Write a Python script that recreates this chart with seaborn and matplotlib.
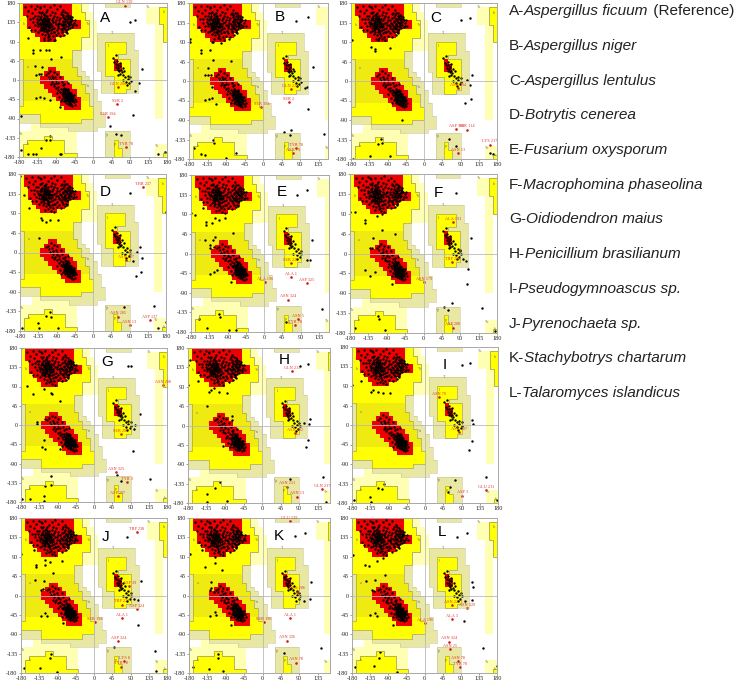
import numpy as np
import pandas as pd
import matplotlib
matplotlib.use("Agg")
import matplotlib.pyplot as plt
from matplotlib.colors import ListedColormap
import seaborn as sns

sns.set_style("white")

# regioes do mapa, uma linha a cada 10 graus de psi (de +180 pra -180), cada run = classe + qtd de celulas
REGION_ROWS = [
    "y1 r12 y2 p2 .4 t6 .9", "y1 r12 y2 p2 .14 p2 p1 y2", "y1 r12 y3 p2 .13 p3 y2", "y2 r11 y3 p2 .13 p3 y2",
    "y2 r13 y2 p2 .12 p3 y2", "y2 r13 y2 p2 .14 p2 y1", "y3 r9 y5 p2 .14 p2 y1", "y4 r7 y6 p2 t9 .5 p2 y1",
    "y5 r4 y6 p4 t9 .5 p2 y1", "y15 p4 t2 y5 t2 .5 p2 .1", "y15 p4 t2 y5 t2 .5 p2 .1",
    "y13 t2 .4 t2 y5 t3 .4 p2 .1", "y13 t2 .4 t2 y3 t5 .4 p2 .1", "t1 o12 t2 .4 t2 y2 r1 y3 t2 .4 p2 .1",
    "t1 o12 t2 .4 t2 y2 r2 y2 t2 .4 p2 .1", "t1 o6 r2 o5 t1 .4 t2 y2 r2 y2 t2 .4 p2 .1",
    "t1 o5 r4 o4 t2 .4 t1 y6 t2 .4 p2 .1", "t1 o4 r6 o4 t2 .3 t3 y4 t2 .4 p2 .1",
    "t1 o4 r7 o3 t3 .2 t3 y4 t2 .4 p2 .1", "t1 o5 r7 o3 t2 .2 t3 y4 t2 .4 p2 .1",
    "t1 o6 r7 o2 t3 .1 t3 y3 t3 .4 p2 .1", "t1 o7 r6 o3 t2 .14 p2 .1", "t1 o8 r6 o2 t2 .14 p2 .1",
    "t1 y9 r5 y2 t3 .13 p2 .1", "y11 r4 y3 t2 .13 p2 .1", "y18 t2 .13 p2 .1", "t5 y13 t3 .12 p2 .1",
    "t5 y10 t6 .15", ".3 p2 t16 .15", ".3 p9 t7 .17", "p14 .7 t6 .9", "p6 y2 p6 .7 t6 .9",
    "p2 y9 p3 .7 t2 y1 t3 .9", "p1 y10 p3 .7 t2 y1 t3 .6 p3", "p1 y10 p3 .7 t2 y2 t2 .6 p3",
    "p1 y13 .7 t2 y2 t2 .6 p2 y1",
]
REGION_CODES = ".ptoyr"
REGION_COLORS = ["#ffffff", "#ffffb4", "#e8e8a4", "#efeb10", "#ffff00", "#ee0000"]

PANEL_NAMES = list("ABCDEFGHIJKL")
# caixas em pixel: esquerda, direita, topo, base, phi onde a imagem foi cortada
PANEL_BOX = {
    "A": (19, 167, 3, 157, 180), "B": (189, 328, 3, 159, 158), "C": (351, 497, 3, 159, 180),
    "D": (20, 166, 174, 331, 180), "E": (191, 329, 175, 332, 160), "F": (350, 497, 174, 333, 180),
    "G": (21, 167, 348, 502, 180), "H": (188, 330, 348, 503, 165), "I": (352, 498, 347, 503, 180),
    "J": (21, 167, 518, 673, 180), "K": (189, 330, 518, 673, 165), "L": (352, 497, 518, 673, 180),
}
LETTER_POS = {
    "A": (105, 18), "B": (280, 17), "C": (436, 18), "D": (105, 192), "E": (282, 192), "F": (438, 193),
    "G": (107, 362), "H": (284, 360), "I": (445, 365), "J": (106, 537), "K": (279, 536), "L": (442, 532),
}

# nuvem beta (phi, psi), igual em todas as estruturas
BETA_POINTS = [
    (-165,170),(-158,162),(-150,172),(-142,165),(-136,174),(-128,168),(-120,172),(-112,163),(-104,170),(-96,176),
    (-88,166),(-80,172),(-72,164),(-160,150),(-154,143),(-148,156),(-141,150),(-137,142),(-131,158),(-126,149),
    (-122,141),(-118,155),(-113,146),(-109,139),(-104,152),(-98,146),(-93,157),(-88,148),(-83,140),(-78,154),
    (-73,147),(-68,158),(-64,142),(-60,152),(-57,138),(-52,148),(-146,135),(-141,128),(-136,136),(-133,126),
    (-130,133),(-127,122),(-124,130),(-121,137),(-119,125),(-116,132),(-114,120),(-112,128),(-110,136),(-108,124),
    (-105,131),(-103,118),(-100,127),(-97,135),(-94,122),(-91,130),(-88,116),(-85,126),(-82,134),(-79,120),
    (-76,128),(-73,136),(-70,123),(-68,131),(-65,118),(-62,127),(-60,135),(-57,122),(-54,130),(-50,124),
    (-46,134),(-42,128),(-140,118),(-134,112),(-128,116),(-124,108),(-120,114),(-116,106),(-111,112),(-106,104),
    (-102,110),(-98,102),(-94,112),(-90,105),(-85,110),(-80,102),(-75,112),(-70,106),(-64,110),(-120,145),
    (-117,139),(-115,150),(-112,134),(-110,143),(-107,128),(-125,140),(-128,131),(-118,128),(-122,124),(-115,126),
    (-70,144),(-67,138),(-65,149),(-62,133),(-72,128),(-68,120),(-60,143),(-58,128),(-56,144),(-74,139),
    (-155,125),(-150,118),(-145,144),(-100,160),(-95,150),(-90,140),(-86,130),(-130,170),(-125,160),(-135,150),
    (-110,100),(-104,96),(-96,94),(-118,98),(-124,122),(-108,116),(-100,140),(-92,136),(-84,122),(-76,116),
    (-127,142),(-124,135),(-121,130),(-119,146),(-117,122),(-115,137),(-113,141),(-111,131),(-109,125),(-107,135),
    (-126,127),(-123,118),(-120,120),(-118,134),(-116,142),(-114,114),(-112,150),(-110,118),(-106,142),(-104,124),
    (-131,140),(-134,131),(-129,146),(-127,156),(-120,152),(-115,158),(-109,108),(-102,132),(-99,120),(-96,112),
    (-72,152),(-70,132),(-68,142),(-66,126),(-64,136),(-62,148),(-61,120),(-59,132),(-57,150),(-55,136),
    (-53,142),(-66,112),(-74,122),(-78,132),(-80,146),(-76,158),(-63,156),(-50,140),(-48,128),(-44,140),
]
# nuvem alfa (phi, psi)
ALPHA_POINTS = [
    (-110,16),(-104,22),(-100,10),(-96,18),(-92,6),(-88,14),(-105,2),(-99,-4),(-94,-10),(-89,0),
    (-84,-8),(-80,6),(-76,-4),(-84,-16),(-78,-20),(-74,-12),(-70,-18),(-72,-28),(-67,-24),(-64,-30),
    (-62,-20),(-69,-35),(-65,-38),(-61,-34),(-58,-28),(-56,-38),(-60,-44),(-64,-46),(-57,-48),(-53,-42),
    (-50,-36),(-48,-46),(-54,-30),(-66,-42),(-62,-40),(-59,-37),(-56,-44),(-52,-50),(-47,-52),(-44,-44),
    (-68,-30),(-72,-38),(-76,-32),(-80,-28),(-85,-24),(-90,-18),(-95,-14),(-75,-44),(-70,-50),(-65,-54),
    (-60,-56),(-55,-58),(-50,-60),(-45,-58),(-41,-50),(-58,-40),(-61,-47),(-63,-36),(-55,-34),(-52,-38),
    (-66,-32),(-69,-26),(-73,-22),(-64,-26),(-60,-24),(-57,-34),(-54,-46),(-50,-42),(-67,-48),(-59,-52),
    (-115,12),(-108,8),(-102,-10),(-88,-30),(-82,-40),(-78,-50),(-70,-10),(-62,-8),(-90,-6),(-98,4),
    (-63,-42),(-61,-39),(-59,-43),(-57,-41),(-55,-40),(-65,-35),(-63,-32),(-60,-30),(-58,-35),(-56,-31),
    (-68,-40),(-66,-37),(-64,-44),(-62,-50),(-60,-47),(-58,-50),(-56,-53),(-54,-37),(-52,-44),(-50,-48),
    (-72,-33),(-70,-30),(-74,-26),(-67,-20),(-65,-22),(-71,-42),(-69,-46),(-48,-40),(-46,-36),(-53,-55),
]
# helice esquerda + rabo ate phi ~100
LEFT_POINTS = [
    (52,42),(55,38),(58,45),(60,36),(57,30),(62,28),(65,33),(60,24),(63,20),(67,24),
    (70,18),(72,28),(66,14),(74,12),(78,6),(72,0),(80,-4),(85,2),(88,-8),(92,-2),
    (62,12),(48,52),(66,40),(76,22),(84,10),(55,58),(90,6),(82,-12),
]

# fora das nuvens, por painel
POINTS_A = [(-159,99),(-146,70),(-146,62),(-130,70),(-114,70),(-108,70),(-118,93),(-109,93),(-93,93),(-79,53),(-101,50),(-142,33),(-138,12),(-131,14),(-126,14),(-123,31),(-138,-43),(-130,-39),(-118,-41),(-105,-47),(-174,-85),(-81,-64),(-146,-173),(-138,-172),(-81,-174),(-77,-173),(-174,-163),(-158,-174),(-105,-140),(-114,-140),(-126,-159),(-105,-132),(89,136),(101,141),(118,26),(112,-8),(101,-25),(97,-81),(42,-107),(57,-126),(69,-128),(158,-174),(176,-168)]
POINTS_B = [(-178,96),(-177,91),(-151,64),(-151,72),(-129,72),(-125,91),(-121,91),(-103,87),(-82,96),(-78,47),(-121,48),(-134,29),(-140,14),(-134,14),(-127,14),(-125,-13),(-142,-44),(-131,-42),(-125,-40),(-114,-52),(-142,-171),(-151,-168),(-168,-155),(-121,-136),(-119,-144),(-91,-178),(-65,-167),(80,139),(109,147),(121,33),(106,-13),(102,-17),(110,-65),(69,-113),(52,-118),(65,-125),(148,-122)]
POINTS_C = [(-130,79),(-120,75),(-120,70),(-85,77),(-178,95),(-113,95),(-96,95),(-55,-91),(113,145),(92,141),(118,15),(105,2),(113,-9),(116,-41),(101,-50),(62,-133),(79,-150),(-105,-134),(-113,-146),(-104,-144),(-134,-173),(-83,-173),(170,-169),(162,-165),(-174,-179)]
POINTS_D = [(-179,175),(-169,132),(-158,101),(-128,78),(-125,75),(-115,71),(-105,75),(-86,75),(-132,34),(92,136),(115,12),(121,-12),(119,-45),(107,-55),(109,2),(99,-19),(150,-122),(76,-125),(-105,-137),(-117,-145),(-103,-148),(-136,-162),(-174,-173),(-132,-173),(-86,-172),(160,-173),(179,92),(179,-160)]
POINTS_E = [(-180,92),(-169,88),(-151,104),(-142,73),(-142,65),(-128,71),(-122,81),(-110,77),(-95,81),(-77,48),(-145,31),(-132,19),(-126,31),(-122,38),(-132,12),(-124,15),(-117,-38),(-124,-42),(-132,-48),(-81,-65),(81,135),(106,145),(118,31),(106,-15),(114,-14),(142,-127),(54,-158),(-161,-150),(-112,-138),(-109,-145),(-140,-171),(-70,-175),(-87,-175)]
POINTS_F = [(-179,94),(-168,94),(-143,75),(-143,68),(-115,86),(-102,90),(-101,53),(-70,45),(-123,36),(-127,12),(-131,12),(-143,-37),(-131,-50),(-119,-41),(-78,-69),(80,136),(117,35),(90,8),(97,-12),(105,-16),(108,-35),(107,-70),(70,-112),(49,-122),(60,-128),(143,-124),(-111,-141),(-110,-148),(-168,-168),(-94,-173),(176,-175)]
POINTS_G = [(-180,179),(-165,91),(-151,73),(-124,83),(-107,75),(-103,73),(-83,55),(-120,14),(-140,8),(-140,2),(-124,-36),(-128,-52),(-120,-55),(-83,-55),(83,139),(91,137),(114,25),(102,1),(99,-9),(95,-61),(138,-127),(56,-117),(66,-132),(-106,-119),(-106,-140),(-120,-142),(-124,-167),(-178,-173),(-157,-173),(-124,-178)]
POINTS_H = [(-175,151),(-179,140),(-155,104),(-179,94),(-128,78),(-123,82),(-118,88),(-104,78),(-86,76),(-135,45),(-72,22),(-73,13),(-94,-47),(91,138),(111,144),(117,15),(103,5),(115,4),(111,-33),(106,-51),(149,-119),(69,-124),(-114,-145),(-102,-131),(-135,-160),(-135,-178),(-86,-175),(156,-178)]
POINTS_I = [(-180,92),(-158,102),(-134,77),(-129,81),(-115,77),(-104,75),(-86,75),(92,138),(112,142),(117,12),(119,2),(116,-37),(108,-58),(150,-121),(74,-127),(61,-142),(57,-154),(-115,-145),(-102,-135),(-105,-148),(-135,-167),(-134,-177),(-176,-173),(178,-172)]
POINTS_J = [(-180,96),(-149,105),(-142,72),(-142,66),(-120,83),(-120,72),(-109,77),(-80,79),(-101,52),(-145,35),(-131,12),(-126,14),(-124,33),(-131,-48),(-120,-40),(-116,-48),(-77,-65),(81,137),(117,33),(99,-8),(109,-11),(109,-68),(50,-119),(150,-130),(-132,-169),(-107,-136),(-109,-145),(-172,-169),(-91,-178),(153,-176)]
POINTS_K = [(-178,96),(-149,105),(-141,67),(-116,90),(-116,75),(-100,59),(-125,32),(-129,13),(-125,17),(-120,9),(-129,-47),(-116,-39),(-114,-45),(-78,-68),(80,138),(105,145),(119,32),(116,-8),(101,-12),(142,-123),(52,-133),(-108,-137),(-108,-145),(-130,-170),(-170,-165),(-96,-175)]
POINTS_L = [(-178,95),(-147,72),(-139,68),(-118,79),(-102,87),(-98,48),(-145,33),(-131,12),(-126,10),(-122,37),(-135,-46),(-122,-40),(-118,-48),(-79,-68),(80,135),(105,146),(117,32),(121,20),(101,-13),(117,-11),(99,-59),(144,-123),(-110,-132),(-112,-144),(-126,-163),(-172,-165),(-69,-177),(179,-163)]
PANEL_POINTS = {"A": POINTS_A, "B": POINTS_B, "C": POINTS_C, "D": POINTS_D, "E": POINTS_E, "F": POINTS_F,
                "G": POINTS_G, "H": POINTS_H, "I": POINTS_I, "J": POINTS_J, "K": POINTS_K, "L": POINTS_L}

# residuos marcados em vermelho (nome, phi, psi)
RESIDUES_A = [("GLN 139",77,174),("GLN 206",62,-16),("SER 2",59,-56),("SER 194",37,-86),("TYR 78",81,-156)]
RESIDUES_B = [("GLN 221",67,-19),("SER 2",62,-48),("SER 194",-4,-61),("TYR 78",80,-155),("ASN 79",72,-167)]
RESIDUES_C = [("ASN 204",83,-16),("ASP 108",80,-111),("SER 114",106,-112),("LYS 217",163,-147),("ASN 13",85,-167)]
RESIDUES_D = [("THR 237",123,150),("ASN 207",82,-18),("ASN 205",61,-147),("ASN 13",90,-167),("ASP 137",140,-155)]
RESIDUES_E = [("SER 227",66,-22),("ALA 1",66,-55),("ASP 325",105,-68),("ALA 196",2,-65),("ASN 324",59,-106),("ASN 5",83,-150),("TYR 78",76,-165)]
RESIDUES_F = [("ALA 191",72,71),("TRP 209",70,-20),("ASN 179",2,-65),("ASP 208",72,-168)]
RESIDUES_G = [("ASN 208",170,93),("SER 207",66,-22),("ASN 325",55,-110),("TYR 3",81,-133),("ASP 207",58,-167)]
RESIDUES_H = [("GLN 213",73,126),("ASN 202",81,-18),("ASN 211",60,-142),("ASN 13",85,-165),("GLN 217",146,-148)]
RESIDUES_I = [("ASN 70",35,64),("ASN 207",83,-16),("ASP 3",92,-163),("GLU 211",151,-151)]
RESIDUES_J = [("TRP 238",105,147),("TRP 227",69,-21),("ASP 39",87,21),("ASP 324",106,-31),("ALA 1",68,-52),("SER 194",2,-62),("ASP 324",60,-106),("LYS 8",74,-152),("TYR 78",66,-165)]
RESIDUES_K = [("GLU 139",66,173),("ASN 206",84,9),("ALA 1",66,-53),("SER 196",3,-62),("ASN 326",61,-105),("ASN 78",82,-156)]
RESIDUES_L = [("ASN 227",69,-22),("ASN 329",105,-30),("ALA 3",69,-54),("ALA 196",2,-65),("ASN 324",60,-107),("ASN 25",64,-124),("ASN 78",82,-153),("TYR 78",87,-167)]
PANEL_RESIDUES = {"A": RESIDUES_A, "B": RESIDUES_B, "C": RESIDUES_C, "D": RESIDUES_D, "E": RESIDUES_E, "F": RESIDUES_F,
                  "G": RESIDUES_G, "H": RESIDUES_H, "I": RESIDUES_I, "J": RESIDUES_J, "K": RESIDUES_K, "L": RESIDUES_L}

# letrinhas cinza das regioes
REGION_TAGS = [("b",-170,130),("~b",-13,130),("a",-158,30),("A",-106,3),("~l",48,110),("l",37,80),("~a",-13,-15),
               ("~p",35,-128),("p",54,-150),("~b",-175,-127),("b",-160,-150),("~b",135,170),("b",170,158),
               ("~b",155,-155),("b",172,-170)]

TICK_DEGREES = [-180, -135, -90, -45, 0, 45, 90, 135, 180]
TICK_NAMES = ["-180", "-135", "-90", "-45", "0", "45", "90", "135", "180"]

SPECIES_TAG = ["A-", "B-", "C-", "D-", "E-", "F-", "G-", "H-", "I-", "J-", "K-", "L-"]
SPECIES_NAME = ["Aspergillus ficuum", "Aspergillus niger", "Aspergillus lentulus", "Botrytis cenerea",
                "Fusarium oxysporum", "Macrophomina phaseolina", "Oidiodendron maius", "Penicillium brasilianum",
                "Pseudogymnoascus sp.", "Pyrenochaeta sp.", "Stachybotrys chartarum", "Talaromyces islandicus"]
SPECIES_Y = [10, 45, 80, 114, 149, 184, 218, 253, 288, 323, 357, 392]

W, H = 740, 689
SERIF = "Liberation Serif"
SANS = "Liberation Sans"


def decode_grid(rows):
    grid = []
    for row in rows:
        cells = []
        for run in row.split():
            cells += [REGION_CODES.index(run[0])] * int(run[1:])
        assert len(cells) == 36, row
        grid.append(cells)
    return np.array(grid)


def to_cell(phi, psi):
    return (np.asarray(phi) + 180) / 10, (180 - np.asarray(psi)) / 10


def draw_edges(ax, grid):
    # linha escura em volta do amarelo, linha clara em volta do bege
    core = grid >= 3
    tan = grid >= 2
    for mask, color, lw in [(tan, "#c4c294", 0.4), (core, "#96923a", 0.4)]:
        for r in range(36):
            for c in range(36):
                if c < 35 and mask[r, c] != mask[r, c + 1]:
                    ax.plot([c + 1, c + 1], [r, r + 1], color=color, lw=lw, solid_capstyle="butt")
                if r < 35 and mask[r, c] != mask[r + 1, c]:
                    ax.plot([c, c + 1], [r + 1, r + 1], color=color, lw=lw, solid_capstyle="butt")


fig = plt.figure(figsize=(W / 100, H / 100), dpi=100)
grid = decode_grid(REGION_ROWS)
cmap = ListedColormap(REGION_COLORS)

for name in PANEL_NAMES:
    left, right, top, bottom, phi_cut = PANEL_BOX[name]
    ax = fig.add_axes([left / W, 1 - bottom / H, (right - left) / W, (bottom - top) / H])
    sns.heatmap(grid, ax=ax, cmap=cmap, vmin=-0.5, vmax=5.5, cbar=False, xticklabels=False, yticklabels=False)
    draw_edges(ax, grid)

    # eixos zero
    zero_x, zero_y = to_cell(0, 0)
    ax.axvline(zero_x, color="#b9b9b9", lw=0.6)
    ax.axhline(zero_y, color="#b9b9b9", lw=0.6)

    for tag, phi, psi in REGION_TAGS:
        if phi < phi_cut:
            x, y = to_cell(phi, psi)
            ax.text(x, y, tag, fontsize=3, color="#707070", family=SERIF, ha="center", va="center")

    pts = BETA_POINTS + ALPHA_POINTS + LEFT_POINTS + PANEL_POINTS[name]
    df = pd.DataFrame(pts, columns=["phi", "psi"])
    df["x"], df["y"] = to_cell(df["phi"], df["psi"])
    sns.scatterplot(data=df, x="x", y="y", ax=ax, s=3, color="black", linewidth=0, legend=False)

    res = pd.DataFrame(PANEL_RESIDUES[name], columns=["label", "phi", "psi"])
    res["x"], res["y"] = to_cell(res["phi"], res["psi"])
    sns.scatterplot(data=res, x="x", y="y", ax=ax, s=3.5, color="#d01818", linewidth=0, legend=False)
    for _, row in res.iterrows():
        ax.text(row["x"], row["y"] - 0.75, row["label"], fontsize=3.1, color="#e0352b", family=SERIF,
                ha="center", va="center")

    ax.set_xlim(0, (phi_cut + 180) / 10)
    ax.set_ylim(36, 0)
    xpos, ypos = [], []
    xnames = []
    for deg, lab in zip(TICK_DEGREES, TICK_NAMES):
        if deg <= phi_cut:
            xpos.append(to_cell(deg, 0)[0])
            xnames.append(lab)
    ypos = [to_cell(0, deg)[1] for deg in TICK_DEGREES]
    ax.set_xticks(xpos)
    ax.set_xticklabels(xnames, fontsize=4.4, family=SERIF, rotation=0)
    ax.set_yticks(ypos)
    ax.set_yticklabels(TICK_NAMES, fontsize=4.4, family=SERIF, rotation=0)
    ax.tick_params(length=1.5, width=0.4, pad=1, color="#555555", labelcolor="#222222",
                   bottom=True, left=True)
    ax.set_xlabel("Phi (degrees)", fontsize=4.4, family=SERIF, labelpad=1.5, color="#222222")
    ax.set_ylabel("Psi (degrees)", fontsize=4.4, family=SERIF, labelpad=1.5, color="#222222")
    for side in ax.spines.values():
        side.set_visible(True)
        side.set_color("#a8a8a8")
        side.set_linewidth(0.7)

    lx, ly = LETTER_POS[name]
    fig.text(lx / W, 1 - ly / H, name, fontsize=11, family=SANS, ha="center", va="center", color="black")

# legenda das especies na direita
overlay = fig.add_axes([0, 0, 1, 1], facecolor="none")
overlay.set_axis_off()
for tag, species, y in zip(SPECIES_TAG, SPECIES_NAME, SPECIES_Y):
    t = overlay.text(509 / W, 1 - (y + 8) / H, tag, fontsize=11.1, family=SANS, color="#222222",
                     transform=overlay.transAxes, va="bottom")
    t2 = overlay.annotate(species, xy=(1, 0), xycoords=t, fontsize=11.1, family=SANS, style="italic",
                          color="#222222", va="bottom", ha="left")
    if tag == "A-":
        overlay.annotate(" (Reference)", xy=(1, 0), xycoords=t2, fontsize=11.1, family=SANS,
                         color="#222222", va="bottom", ha="left")

fig.savefig("out.png", dpi=100)
